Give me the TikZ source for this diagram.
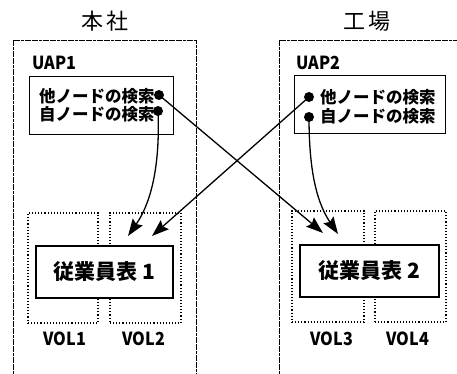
\documentclass[tikz,border=0pt]{standalone}
\usepackage{fontspec}
\setmainfont{Noto Sans CJK JP}
\usetikzlibrary{arrows.meta}
\begin{document}
\begin{tikzpicture}[x=1pt,y=-1pt,
  frame/.style={line width=0.8pt,dash pattern=on 3pt off 0.6pt},
  uapbox/.style={draw,line width=1pt,inner sep=0pt},
  volbox/.style={draw,dotted,line width=1.1pt,inner sep=0pt},
  tablebox/.style={draw,fill=white,line width=1.1pt,inner sep=0pt,font=\fontsize{21}{24}\selectfont\bfseries},
  title/.style={font=\fontsize{22}{26}\selectfont},
  lbl/.style={font=\fontsize{18}{20}\selectfont\bfseries,inner sep=0pt},
  itemtxt/.style={font=\fontsize{16.5}{19}\selectfont\bfseries,inner sep=0pt,anchor=west},
  dot/.style={circle,fill,inner sep=0pt,minimum size=10pt},
  arr/.style={line width=1.3pt,-{Stealth[length=17pt,width=12pt,inset=2.5pt]}}
]
\useasboundingbox (0,0) rectangle (457,374);
% frames
\draw[frame] (13,374) -- (13,40) -- (196,40) -- (196,374);
\draw[frame] (279,374) -- (279,40) -- (457,40);
\node[title] (t1) at (105,21) {本\hspace{4pt}社};
\node[title] (t2) at (367,21) {工\hspace{4pt}場};
% UAP boxes
\node[lbl,anchor=west] (u1) at (32,63) {\scalebox{0.9}[1]{UAP1}};
\node[lbl,anchor=west] (u2) at (296,63) {\scalebox{0.9}[1]{UAP2}};
\node[uapbox,minimum width=144pt,minimum height=58pt] (b1) at (101,106) {};
\node[uapbox,minimum width=151pt,minimum height=58pt] (b2) at (369.5,105) {};
\node[itemtxt] (o1) at (39,96) {他ノードの検索};
\node[itemtxt] (s1) at (39,114) {自ノードの検索};
\node[itemtxt] (o2) at (320,97) {他ノードの検索};
\node[itemtxt] (s2) at (320,116) {自ノードの検索};
\node[dot] (d1) at (159,95) {};
\node[dot] (d2) at (158,111) {};
\node[dot] (e1) at (309,97) {};
\node[dot] (e2) at (309,117) {};
% volumes
\node[volbox,minimum width=70pt,minimum height=110pt] (v1) at (63,268) {};
\node[volbox,minimum width=71pt,minimum height=110pt] (v2) at (145.5,268) {};
\node[volbox,minimum width=72pt,minimum height=111pt] (v3) at (328,266.5) {};
\node[volbox,minimum width=71pt,minimum height=111pt] (v4) at (410.5,266.5) {};
\node[tablebox,minimum width=137pt,minimum height=52pt] (tb1) at (104.5,272) {従業員表 1};
\node[tablebox,minimum width=139pt,minimum height=52pt] (tb2) at (369.5,271) {従業員表 2};
\node[lbl] (l1) at (65,339) {\scalebox{0.9}[1]{VOL1}};
\node[lbl] (l2) at (144,339) {\scalebox{0.9}[1]{VOL2}};
\node[lbl] (l3) at (332,339) {\scalebox{0.9}[1]{VOL3}};
\node[lbl] (l4) at (408,339) {\scalebox{0.9}[1]{VOL4}};
% arrow ends
\coordinate (a1) at (128,236);
\coordinate (a2) at (152,236);
\coordinate (a3) at (323,233);
\coordinate (a4) at (338,234);
\draw[arr] (d1.center) -- (a3);
\draw[arr] (e1.center) -- (a2);
\draw[arr] (d2.center) .. controls (160,160) and (153,200) .. (a1);
\draw[arr] (e2.center) .. controls (309,165) and (315,200) .. (a4);
\end{tikzpicture}
\end{document}
